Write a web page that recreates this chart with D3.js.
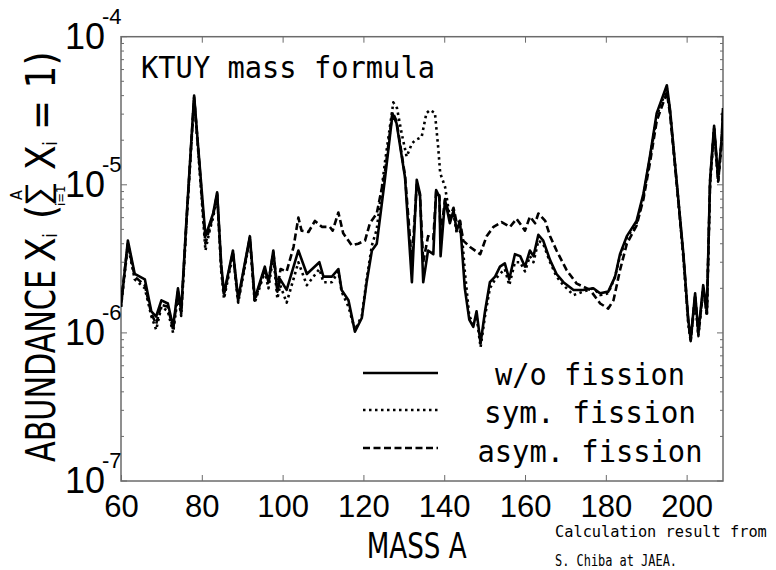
<!DOCTYPE html>
<html><head><meta charset="utf-8">
<script src="https://cdn.jsdelivr.net/npm/d3@7"></script>
<style>body{margin:0;background:#fff}svg{display:block}</style>
</head><body>
<svg id="c" width="776" height="570"></svg>
<script>
// ---- data ----
const massWo = [60,61.7,63.4,65.9,67.5,68.7,70,71.6,72.9,74.1,74.9,76.2,78.1,79.1,80.9,82,82.8,83.8,84.8,85.5,87.7,89,91.9,93.1,95.6,96.5,97.7,98.7,99.4,101,103.9,106,109.1,110.1,112.2,113.8,114.6,116.3,117.9,119.6,120.8,122.1,123.3,125.3,127.2,128.2,130.3,132,133.2,134,134.8,136,137.3,138,138.8,139.1,140.2,141.4,142.3,143.1,143.9,145.1,146.2,147.2,148,149,150.1,151.3,152.6,153.8,155,156.1,157.5,158.8,160,161.2,162.1,163.3,164.5,166.2,167.8,169.5,172,174.4,176.9,178.6,180.6,182.3,183.5,185.2,187.6,189.3,190.9,192.6,195.1,195.9,197.5,199.2,200.4,201,202.1,202.9,204.1,205,205.8,206.8,207.8,208.7,209];
const valWo = [1.5e-6,4.2e-6,2.5e-6,2.3e-6,1.4e-6,1.29e-6,1.66e-6,1.58e-6,1.1e-6,2.0e-6,1.4e-6,5.8e-6,4.0e-5,1.8e-5,4.5e-6,5.5e-6,6.4e-6,8.9e-6,2.9e-6,1.85e-6,3.6e-6,1.7e-6,4.5e-6,1.7e-6,2.8e-6,2.2e-6,3.6e-6,1.9e-6,2.3e-6,1.95e-6,3.6e-6,2.5e-6,3.0e-6,2.4e-6,2.4e-6,2.7e-6,1.95e-6,1.66e-6,1.02e-6,1.26e-6,2.2e-6,3.6e-6,4.0e-6,1.08e-5,3.0e-5,2.6e-5,1.12e-5,2.2e-6,1.08e-5,8.7e-6,2.2e-6,3.6e-6,3.4e-6,9.2e-6,8.3e-6,3.3e-6,7.9e-6,5.5e-6,6.7e-6,4.9e-6,5.7e-6,2.0e-6,1.23e-6,1.1e-6,1.4e-6,8.5e-7,1.4e-6,2.2e-6,2.4e-6,2.8e-6,2.95e-6,2.3e-6,3.4e-6,3.3e-6,2.8e-6,3.6e-6,3.3e-6,4.6e-6,4.2e-6,3.1e-6,2.5e-6,2.2e-6,1.95e-6,1.95e-6,2.0e-6,1.85e-6,1.9e-6,2.4e-6,3.4e-6,4.5e-6,5.7e-6,8.7e-6,1.55e-5,3.05e-5,4.7e-5,3.2e-5,1.08e-5,3.4e-6,1.23e-6,9.0e-7,1.85e-6,1.0e-6,2.1e-6,1.4e-6,1.08e-5,2.5e-5,1.1e-5,2.1e-5,3.3e-5];

const massSym = [60,61.7,63.4,65.9,67.5,68.7,70,71.6,72.9,74.1,74.9,76.2,78.1,79.1,80.9,82,82.8,83.8,84.8,85.5,87.7,89,91.9,93.1,95.6,96.5,97.7,98.7,99.4,101,103.9,106,109.1,110.1,112.2,113.8,114.6,116.3,117.9,119.6,120.8,122.1,123.3,125.3,127.4,128.3,129.5,130.7,132,132.8,134.4,135.6,136.5,137.7,138.5,139,140.2,141.4,142.3,143.1,144.3,145.1,146.2,147.2,148,149,150.1,151.3,152.6,153.8,155,156.1,157.5,158.8,160,161.2,162.1,163.3,164.5,166.2,167.8,169.5,172,174.4,176.9,178.6,180.6,182.3,183.5,185.2,187.6,189.3,190.9,192.6,195.1,195.9,197.5,199.2,200.4,201,202.1,202.9,204.1,205,205.8,206.8,207.8,208.7,209];
const valSym = [1.5e-6,3.9e-6,2.3e-6,2.0e-6,1.3e-6,1.05e-6,1.5e-6,1.4e-6,1.0e-6,1.8e-6,1.3e-6,5.5e-6,3.8e-5,1.7e-5,3.6e-6,5.0e-6,6.0e-6,8.5e-6,2.6e-6,1.7e-6,3.4e-6,1.6e-6,4.3e-6,1.6e-6,2.6e-6,2.0e-6,3.3e-6,1.7e-6,2.1e-6,1.6e-6,3.0e-6,2.1e-6,2.7e-6,2.2e-6,2.2e-6,2.6e-6,1.9e-6,1.5e-6,1.05e-6,1.3e-6,2.3e-6,3.9e-6,5.0e-6,1.4e-5,3.6e-5,3.3e-5,2.2e-5,1.55e-5,1.9e-5,2.0e-5,2.1e-5,3.05e-5,3.2e-5,3.05e-5,1.8e-5,1.2e-5,9.7e-6,6.0e-6,6.4e-6,4.7e-6,4.9e-6,2.6e-6,1.3e-6,1.15e-6,1.3e-6,8.0e-7,1.3e-6,2.0e-6,2.3e-6,2.5e-6,2.7e-6,2.1e-6,3.0e-6,3.0e-6,2.6e-6,3.3e-6,3.0e-6,4.2e-6,4.0e-6,3.0e-6,2.4e-6,2.1e-6,1.8e-6,1.9e-6,2.0e-6,1.8e-6,1.85e-6,2.4e-6,3.3e-6,4.4e-6,5.5e-6,8.3e-6,1.5e-5,2.9e-5,4.5e-5,3.1e-5,1.05e-5,3.2e-6,1.15e-6,8.8e-7,1.7e-6,9.5e-7,2.0e-6,1.3e-6,1.0e-5,2.4e-5,1.05e-5,2.0e-5,3.1e-5];

const massAsym = [60,61.7,63.4,65.9,67.5,68.7,70,71.6,72.9,74.1,74.9,76.2,78.1,79.1,80.9,82,82.8,83.8,84.8,85.5,87.7,89,91.9,93.1,95.6,96.5,97.7,98.7,99.5,101,102.7,103.9,104.7,106.4,108,109.7,111.7,112.4,113.8,115,117.1,118.7,120.4,121.6,123.3,125.3,127.2,128.2,130.3,132,133.2,134,134.8,136,137.3,138,138.8,139.1,140.2,141.4,142.3,143.1,143.9,144.7,146.4,148.9,150.5,152.2,154.2,156.3,157.9,160,161.2,162.5,163.3,165,166.2,167.8,170.3,172.8,176.1,178.6,180.6,181.9,183.5,185.2,187.6,189.3,190.9,192.6,195.1,195.9,197.5,199.2,200.4,201,202.1,202.9,204.1,205,205.8,206.8,207.8,208.7,209];
const valAsym = [1.6e-6,4.0e-6,2.4e-6,2.1e-6,1.35e-6,1.15e-6,1.55e-6,1.5e-6,1.05e-6,1.9e-6,1.35e-6,5.6e-6,3.9e-5,1.75e-5,4.0e-6,5.2e-6,6.2e-6,8.7e-6,2.8e-6,1.8e-6,3.5e-6,1.65e-6,4.4e-6,1.65e-6,2.7e-6,2.2e-6,3.5e-6,2.0e-6,2.7e-6,2.6e-6,3.8e-6,6.0e-6,4.9e-6,4.8e-6,5.7e-6,5.2e-6,5.2e-6,4.9e-6,6.5e-6,4.7e-6,3.9e-6,4.0e-6,4.2e-6,5.5e-6,6.4e-6,1.2e-5,3.1e-5,2.7e-5,1.15e-5,3.0e-6,1.0e-5,8.5e-6,3.0e-6,4.5e-6,4.3e-6,9.0e-6,8.5e-6,4.5e-6,8.0e-6,6.0e-6,7.0e-6,5.5e-6,5.7e-6,4.2e-6,3.8e-6,3.4e-6,4.5e-6,5.2e-6,5.6e-6,5.2e-6,5.9e-6,4.9e-6,6.1e-6,5.5e-6,6.4e-6,5.7e-6,4.5e-6,3.6e-6,2.65e-6,2.15e-6,1.95e-6,1.58e-6,1.46e-6,1.66e-6,2.65e-6,4.0e-6,5.3e-6,8.0e-6,1.4e-5,2.7e-5,4.2e-5,3.0e-5,1.05e-5,3.3e-6,1.2e-6,8.8e-7,1.8e-6,9.8e-7,2.0e-6,1.35e-6,1.05e-5,2.4e-5,1.05e-5,2.0e-5,3.2e-5];

const xTicks = [60,80,100,120,140,160,180,200];
const yDecades = [-7,-6,-5,-4];
const legendLabels = ["w/o fission","sym. fission","asym. fission"];

// ---- layout ----
const svg = d3.select("#c");
const L = 121, R = 723, T = 36.7, B = 481;
const x = d3.scaleLinear().domain([60,209]).range([L,R]);
const y = d3.scaleLog().domain([1e-7,1e-4]).range([B,T]);
const frameCol = "#6b6b6b";
const mono = "'DejaVu Sans Mono','Liberation Mono',monospace";
const narrow = "'Liberation Sans Narrow','DejaVu Sans Condensed','Liberation Sans',sans-serif";
const sans = "'Liberation Sans',Arial,sans-serif";

svg.append("defs").append("clipPath").attr("id","clip")
  .append("rect").attr("x",L).attr("y",T).attr("width",R-L).attr("height",B-T);

// minor/major y ticks (inward, both sides)
const minorVals = [];
for (let e=-7; e<-4; e++) for (let m=2; m<=9; m++) minorVals.push(m*Math.pow(10,e));
const gTicks = svg.append("g").attr("stroke",frameCol).attr("stroke-width",1);
minorVals.forEach(v=>{
  gTicks.append("line").attr("x1",L).attr("x2",L+3).attr("y1",y(v)).attr("y2",y(v));
  gTicks.append("line").attr("x1",R).attr("x2",R-3).attr("y1",y(v)).attr("y2",y(v));
});
yDecades.forEach(e=>{
  const v=Math.pow(10,e);
  gTicks.append("line").attr("x1",L).attr("x2",L+6).attr("y1",y(v)).attr("y2",y(v));
  gTicks.append("line").attr("x1",R).attr("x2",R-6).attr("y1",y(v)).attr("y2",y(v));
});

// x axes (bottom with labels, top ticks only)
const xb = svg.append("g").attr("transform",`translate(0,${B})`)
  .call(d3.axisBottom(x).tickValues(xTicks).tickSize(-6).tickPadding(14).tickFormat(d3.format("d")));
xb.select(".domain").remove();
xb.selectAll("line").attr("stroke",frameCol);
xb.selectAll("text").attr("font-family",sans).attr("font-size",31).attr("fill","#000");
const xt = svg.append("g").attr("transform",`translate(0,${T})`)
  .call(d3.axisTop(x).tickValues(xTicks).tickSize(-6).tickFormat(""));
xt.select(".domain").remove();
xt.selectAll("line").attr("stroke",frameCol);

// frame
svg.append("rect").attr("x",L).attr("y",T).attr("width",R-L).attr("height",B-T)
  .attr("fill","none").attr("stroke",frameCol).attr("stroke-width",1.5);

// y tick labels 10^e
yDecades.forEach(e=>{
  const yy = y(Math.pow(10,e));
  svg.append("text").attr("x",105).attr("y",yy+12).attr("text-anchor","end")
    .attr("font-family",sans).attr("font-size",36).text("10");
  svg.append("text").attr("x",102).attr("y",yy-13).attr("font-family",sans).attr("font-size",22).text("-"+(-e));
});

// series
const line = d3.line().x(d=>x(d[0])).y(d=>y(d[1]));
const series = [
  {m:massWo, v:valWo, dash:null},
  {m:massSym, v:valSym, dash:"2.5,3.5"},
  {m:massAsym, v:valAsym, dash:"7,3.5"}
];
const gL = svg.append("g").attr("clip-path","url(#clip)");
series.forEach(s=>{
  const pts = s.m.map((a,i)=>[a,s.v[i]]);
  gL.append("path").attr("d",line(pts)).attr("fill","none").attr("stroke","#000")
    .attr("stroke-width",2.6).attr("stroke-linejoin","round")
    .attr("stroke-dasharray",s.dash);
});

// title
svg.append("text").attr("x",141).attr("y",78).attr("font-family",mono).attr("font-size",30)
  .attr("textLength",294).attr("lengthAdjust","spacingAndGlyphs").text("KTUY mass formula");

// legend
const legY = [373,410,448];
const legTextY = [385,423,461.5];
const legW = [190,212,225];
legendLabels.forEach((lab,i)=>{
  svg.append("line").attr("x1",363).attr("x2",438).attr("y1",legY[i]).attr("y2",legY[i])
    .attr("stroke","#000").attr("stroke-width",2.6).attr("stroke-dasharray",series[i].dash);
  svg.append("rect").attr("x",590-legW[i]/2-6).attr("y",legTextY[i]-28).attr("width",legW[i]+12).attr("height",34).attr("fill","#fff");
  svg.append("text").attr("x",590).attr("y",legTextY[i]).attr("text-anchor","middle")
    .attr("font-family",mono).attr("font-size",30)
    .attr("textLength",legW[i]).attr("lengthAdjust","spacingAndGlyphs").text(lab);
});

// x title
svg.append("text").attr("x",416.7).attr("y",558).attr("text-anchor","middle")
  .attr("font-family",narrow).attr("font-size",36).attr("textLength",100)
  .attr("lengthAdjust","spacingAndGlyphs").text("MASS A");

// credit
svg.append("text").attr("x",555).attr("y",537).attr("font-family",mono).attr("font-size",15.3)
  .text("Calculation result from");
svg.append("text").attr("x",555).attr("y",566).attr("font-family",mono).attr("font-size",15.3)
  .attr("textLength",122).attr("lengthAdjust","spacingAndGlyphs").text("S. Chiba at JAEA.");

// y title (rotated)
const gy = svg.append("g").attr("transform","translate(55,462) rotate(-90)").attr("font-family",narrow);
gy.append("text").attr("x",0).attr("y",0).attr("font-size",40).attr("textLength",192)
  .attr("lengthAdjust","spacingAndGlyphs").text("ABUNDANCE");
gy.append("text").attr("x",200).attr("y",0).attr("font-size",40).text("X");
gy.append("text").attr("x",224).attr("y",2).attr("font-size",20).text("i");
gy.append("text").attr("x",243).attr("y",0).attr("font-size",40).text("(");
gy.append("text").attr("x",256).attr("y",-6).attr("font-size",34).attr("font-family",sans).text("\u2211");
gy.append("text").attr("x",262).attr("y",-33).attr("font-size",16).text("A");
gy.append("text").attr("x",256).attr("y",10).attr("font-size",13).text("i=1");
gy.append("text").attr("x",292).attr("y",0).attr("font-size",40).text("X");
gy.append("text").attr("x",316).attr("y",2).attr("font-size",20).text("i");
gy.append("text").attr("x",332).attr("y",0).attr("font-size",40).text("= 1)");
</script>
</body></html>
